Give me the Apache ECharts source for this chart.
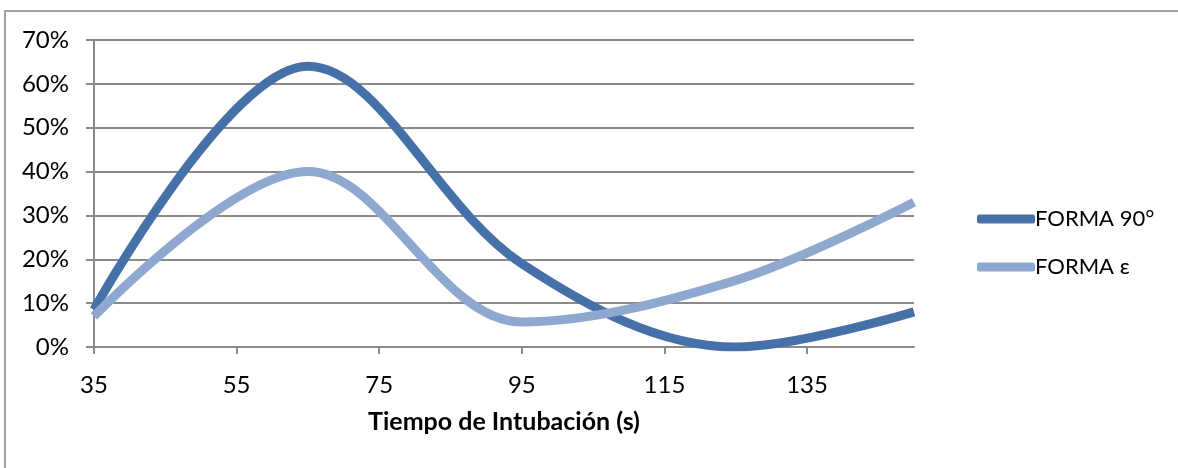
<!DOCTYPE html>
<html>
<head>
<meta charset="utf-8">
<script src="https://cdn.jsdelivr.net/npm/echarts@6/dist/echarts.min.js"></script>
<style>
  html, body { margin: 0; padding: 0; background: #ffffff; }
  #chart { width: 1178px; height: 468px; }
</style>
</head>
<body>
<div id="chart"></div>
<script>
  // tiempo de intubacion (s) y porcentaje por forma
  var tiempos = [35, 65, 95, 125, 150];
  var forma90 = [8.5, 64, 19, 0, 8];
  var formaE = [7, 40, 5.7, 15.2, 33];
  var xTicks = [35, 55, 75, 95, 115, 135];

  function pares(ys) {
    return tiempos.map(function (t, i) { return [t, ys[i]]; });
  }

  var font = 'Lato, "Liberation Sans", sans-serif';
  var gris = '#8a8a8a';

  var myChart = echarts.init(document.getElementById('chart'));
  var option = {
    animation: false,
    graphic: [
      {
        type: 'rect',
        shape: { x: 5, y: 11, width: 1300, height: 600 },
        style: { fill: 'none', stroke: '#a0a0a0', lineWidth: 2 },
        silent: true
      }
    ],
    grid: {
      left: 94,
      top: 40,
      right: 264,
      bottom: 121
    },
    legend: {
      orient: 'vertical',
      left: 972,
      top: 203,
      itemWidth: 58,
      itemHeight: 9,
      itemGap: 26,
      icon: 'roundRect',
      textStyle: { fontFamily: font, fontSize: 22, color: '#000', padding: [0, 0, 0, -5] },
      data: ['FORMA 90°', 'FORMA ε']
    },
    xAxis: {
      type: 'value',
      min: 35,
      max: 150,
      name: 'Tiempo de Intubación (s)',
      nameLocation: 'middle',
      nameGap: 62,
      nameTextStyle: { fontFamily: font, fontSize: 25, fontWeight: 'bold', color: '#000' },
      axisLine: { show: true, lineStyle: { color: gris, width: 2 } },
      axisTick: { show: true, length: 7, lineStyle: { color: gris, width: 2 }, customValues: xTicks },
      axisLabel: { fontFamily: font, fontSize: 24, color: '#000', margin: 26, customValues: xTicks },
      splitLine: { show: false }
    },
    yAxis: {
      type: 'value',
      min: 0,
      max: 70,
      interval: 10,
      axisLine: { show: true, lineStyle: { color: gris, width: 2 } },
      axisTick: { show: true, length: 8, lineStyle: { color: gris, width: 2 } },
      axisLabel: {
        fontFamily: font, fontSize: 24, color: '#000', margin: 25,
        formatter: function (v) { return v + '%'; }
      },
      splitLine: { show: true, lineStyle: { color: gris, width: 2 } }
    },
    series: [
      {
        name: 'FORMA 90°',
        type: 'line',
        smooth: 0.35,
        showSymbol: false,
        symbol: 'none',
        clip: true,
        itemStyle: { color: '#4571a8' },
        lineStyle: { color: '#4571a8', width: 9 },
        data: pares(forma90),
        z: 3
      },
      {
        name: 'FORMA ε',
        type: 'line',
        smooth: 0.35,
        showSymbol: false,
        symbol: 'none',
        clip: true,
        itemStyle: { color: '#8fa8cf' },
        lineStyle: { color: '#8fa8cf', width: 9 },
        data: pares(formaE),
        z: 4
      }
    ]
  };
  myChart.setOption(option);
</script>
</body>
</html>
